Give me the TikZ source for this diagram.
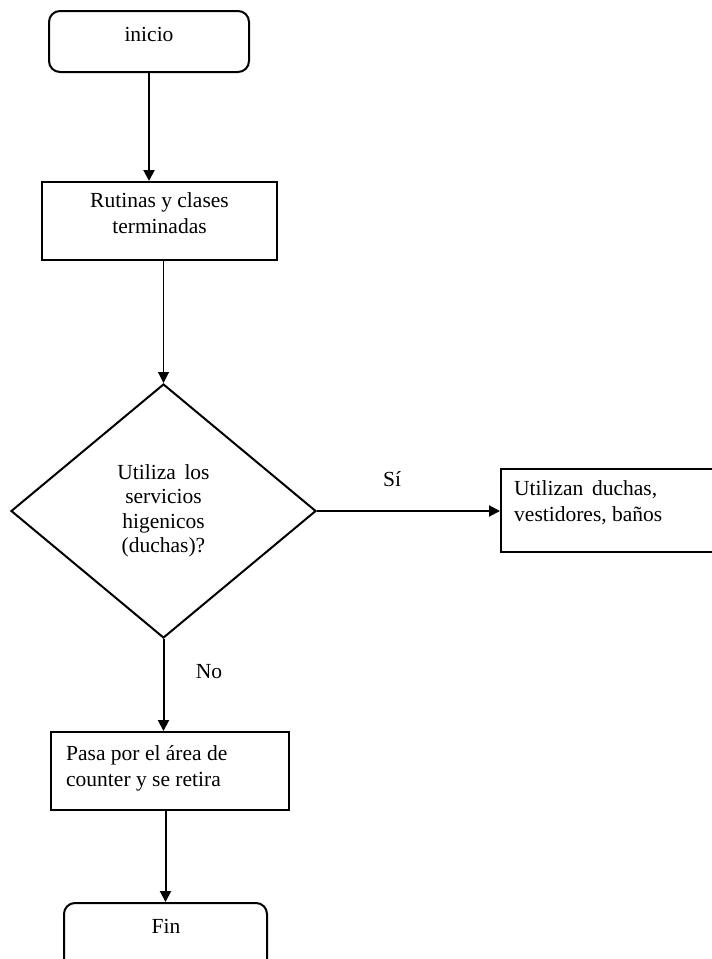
\documentclass[tikz,border=0pt]{standalone}
\usepackage{fontspec}
\setmainfont{Liberation Serif}
\usetikzlibrary{arrows.meta,shapes.geometric}

\begin{document}
\begin{tikzpicture}
[x=1pt,y=-1pt,
>={Triangle[length=11pt,width=11pt]},
frame/.style={draw, line width=2pt, inner sep=0pt},
startstop/.style={frame, rounded corners=11pt},
decision/.style={draw, diamond, line width=2pt, inner sep=0pt, align=center,
  font=\fontsize{21.5}{24.5}\selectfont},
txt/.style={inner sep=0pt, font=\fontsize{21.5}{26}\selectfont},
myarrow/.style={->, line width=2pt},
thinarrow/.style={->, line width=1.1pt}]
  \useasboundingbox (0,0) rectangle (712,959);
  % boxes
  \node [startstop, minimum width=200pt, minimum height=61pt] (ini) at (149,41.5) {};
  \node [txt, anchor=base] (initxt) at (149,41) {inicio};
  \node [frame, minimum width=235pt, minimum height=78pt] (rut) at (159.5,221) {};
  \node [txt, anchor=base, align=center] (ruttxt) at (159.5,233) {Rutinas y clases\\terminadas};
  \node [decision, minimum width=305pt, minimum height=254pt] (dec) at (163.5,511)
    {Utiliza\hspace{0.4em}los\\servicios\\higenicos\\(duchas)?};
  \node [frame, minimum width=222pt, minimum height=83pt] (util) at (612,510) {};
  \node [txt, anchor=base west, align=left] (utiltxt) at (514,521)
    {Utilizan\hspace{0.4em}duchas,\\vestidores, baños};
  \node [frame, minimum width=238pt, minimum height=78pt] (pasa) at (170,771) {};
  \node [txt, anchor=base west, align=left] (pasatxt) at (66,786)
    {Pasa por el área de\\counter y se retira};
  \node [startstop, minimum width=203pt, minimum height=80pt] (fin) at (165.5,943) {};
  \node [txt, anchor=base] (fintxt) at (166,933) {Fin};
  % connectors
  \draw [myarrow] (ini.south) -- (ini.south |- rut.north);
  \draw [thinarrow] (dec.north |- rut.south) -- (dec.north);
  \draw [myarrow] (dec.east) -- node [txt, anchor=base, pos=0.41, yshift=25pt] (si) {Sí}
    (dec.east -| util.west);
  \draw [myarrow] (dec.south) -- node [txt, anchor=base, pos=0.43, xshift=45.5pt] (no) {No}
    (dec.south |- pasa.north);
  \draw [myarrow] (fin.north |- pasa.south) -- (fin.north);
\end{tikzpicture}
\end{document}
